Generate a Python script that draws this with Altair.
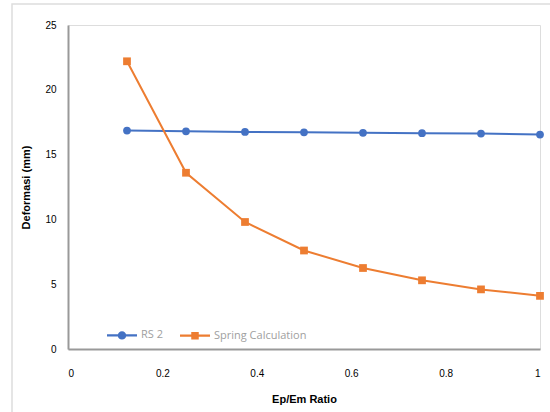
import altair as alt
import pandas as pd

ratio = [0.125, 0.25, 0.375, 0.5, 0.625, 0.75, 0.875, 1.0]
rs2 = [16.85, 16.8, 16.75, 16.72, 16.68, 16.65, 16.62, 16.55]
spring = [22.2, 13.6, 9.8, 7.6, 6.25, 5.3, 4.6, 4.1]
series_names = ["RS 2", "Spring Calculation"]
colors = ["#4472C4", "#ED7D31"]

rows = []
for x, a, b in zip(ratio, rs2, spring):
    rows.append({"ratio": x, "def": a, "series": series_names[0]})
    rows.append({"ratio": x, "def": b, "series": series_names[1]})
df = pd.DataFrame(rows)

FONT = "Open Sans"

x_enc = alt.X("ratio:Q", title="Ep/Em Ratio",
              scale=alt.Scale(domain=[0, 1], nice=False, zero=True),
              axis=alt.Axis(values=[0, 0.2, 0.4, 0.6, 0.8, 1], format="~g",
                            grid=False, ticks=False, domainColor="#999999",
                            domainWidth=2, labelPadding=19, titlePadding=15))
y_enc = alt.Y("def:Q", title="Deformasi (mm)",
              scale=alt.Scale(domain=[0, 25], nice=False),
              axis=alt.Axis(values=[0, 5, 10, 15, 20, 25], grid=False,
                            ticks=False, domainColor="#999999", domainWidth=2,
                            labelPadding=12, titlePadding=13))
color_scale = alt.Scale(domain=series_names, range=colors)

frame = alt.Chart(pd.DataFrame({"a": [0]})).mark_rect(
    fill=None, stroke="#dddddd", strokeWidth=1.5
).encode(x=alt.value(-56), y=alt.value(-21), x2=alt.value(600), y2=alt.value(500))

lines = alt.Chart(df).mark_line(strokeWidth=2).encode(
    x=x_enc, y=y_enc,
    color=alt.Color("series:N", scale=color_scale, legend=None),
    detail="series:N",
)

points = alt.Chart(df).mark_point(filled=True, opacity=1).encode(
    x=x_enc, y=y_enc,
    color=alt.Color("series:N", scale=color_scale, legend=None),
    shape=alt.Shape("series:N", scale=alt.Scale(domain=series_names, range=["circle", "square"]), legend=None),
    size=alt.value(60),
)

circle_path = ("M-1,-0.07H1V0.07H-1Z"
               "M-0.28,0A0.28,0.28 0 1,1 0.28,0A0.28,0.28 0 1,1 -0.28,0Z")
square_path = "M-1,-0.07H1V0.07H-1ZM-0.25,-0.25H0.25V0.25H-0.25Z"

leg_props = dict(
    title=None, orient="none", direction="horizontal",
    legendX=38, legendY=294, symbolSize=900,
    labelFontSize=11, labelColor="#a0a0a0", labelFont=FONT,
    columnPadding=14, labelOffset=3, symbolOpacity=1,
)
legend_layer = alt.Chart(df).transform_filter("false").mark_point(filled=True, opacity=1).encode(
    x=x_enc, y=y_enc,
    color=alt.Color("series:N", scale=color_scale, legend=alt.Legend(**leg_props)),
    shape=alt.Shape("series:N", scale=alt.Scale(domain=series_names, range=[circle_path, square_path]),
                    legend=alt.Legend(**leg_props)),
    size=alt.value(900),
)

chart = alt.layer(frame, lines, points, legend_layer).resolve_scale(
    shape="independent", color="independent"
).properties(
    width=472, height=324,
    autosize=alt.AutoSizeParams(type="none"),
    padding={"left": 68, "top": 25, "right": 10, "bottom": 63},
).configure_view(stroke=None).configure_axis(
    labelFont=FONT, labelFontSize=13, labelColor="#4a4a4a",
    titleFont=FONT, titleFontSize=11, titleFontWeight="bold", titleColor="#333333",
).configure(background="white")

chart.save("out.html", embed_options={"renderer": "svg", "actions": False})
